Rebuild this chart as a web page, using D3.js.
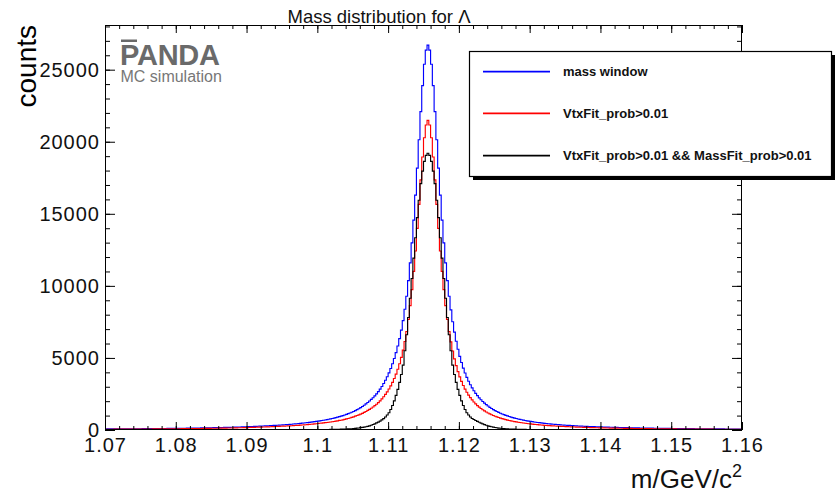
<!DOCTYPE html>
<html><head><meta charset="utf-8">
<script src="https://cdn.jsdelivr.net/npm/d3@7"></script>
<style>body{margin:0;background:#fff}svg{display:block}</style>
</head><body>
<svg id="c" width="836" height="494"></svg>
<script>
// ---- data ----
const xMin = 1.07, xMax = 1.16, binWidth = 0.00025, yMax = 28100;
const xTicks = [1.07,1.08,1.09,1.10,1.11,1.12,1.13,1.14,1.15,1.16];
const xTickLabels = ["1.07","1.08","1.09","1.1","1.11","1.12","1.13","1.14","1.15","1.16"];
const yTicks = [0,5000,10000,15000,20000,25000];
const yTickLabels = ["0","5000","10000","15000","20000","25000"];
const seriesNames = ["mass window","VtxFit_prob>0.01","VtxFit_prob>0.01 && MassFit_prob>0.01"];
const seriesColors = ["#0000ff","#ff0000","#000000"];

// counts per bin (360 bins of 0.25 MeV from 1.07 to 1.16)
const massWindow = [
72,73,73,74,75,75,76,77,77,78,
79,81,82,82,83,84,85,86,87,89,
90,91,92,93,94,95,97,98,99,100,
101,102,105,106,107,108,110,112,113,114,
116,117,120,121,123,124,127,129,131,132,
135,137,139,140,143,145,147,150,153,155,
158,160,162,164,168,170,174,177,181,184,
186,190,193,198,203,206,210,213,218,222,
226,233,238,244,250,255,260,266,271,277,
283,289,295,302,309,316,323,330,339,347,
355,363,373,382,392,402,413,424,435,447,
459,472,486,500,514,530,545,562,579,598,
617,637,657,674,696,721,746,772,800,827,
859,891,926,959,998,1039,1083,1131,1181,1229,
1286,1346,1411,1474,1549,1630,1716,1810,1911,2012,
2122,2240,2370,2511,2666,2834,3020,3225,3452,3697,
3964,4266,4598,4961,5368,5825,6341,6925,7586,8378,
9281,10360,11592,12988,14558,16293,18173,20137,22093,23897,
25378,26357,
26700,
26357,25378,23897,22093,20137,18173,16293,14558,12988,11592,
10360,9281,8336,7511,6789,6156,5601,5112,4680,4297,
3957,3653,3382,3138,2919,2721,2542,2380,2232,2097,
1974,1861,1757,1662,1574,1492,1417,1347,1282,1222,
1165,1113,1064,1018,975,934,896,860,827,795,
765,737,710,684,660,638,616,595,576,557,
540,523,507,491,476,462,449,436,424,412,
400,389,379,369,359,350,341,332,324,316,
308,301,294,287,280,274,268,262,256,250,
245,240,235,230,225,220,216,212,207,203,
199,195,191,188,184,181,178,175,171,168,
165,162,160,157,154,151,148,146,143,141,
139,137,135,133,130,128,126,124,122,121,
119,117,115,114,112,110,108,107,105,104,
102,101,99,98,97,96,94,93,92,91,
89,88,87,86,85,84,83,82,81,80,
79,78,77,76,75,74,73,72,71,71,
70,69,68,67,67,66,65];

const vtxFit = [
52,53,54,55,55,56,56,57,59,59,
60,60,61,61,62,63,63,65,66,66,
67,68,68,70,71,71,72,73,74,76,
76,77,78,79,81,82,83,84,84,85,
87,88,89,92,93,94,95,96,98,99,
101,102,104,105,107,109,111,112,113,116,
118,120,122,123,126,128,131,132,134,137,
139,142,145,148,150,153,156,159,162,165,
170,174,179,183,186,190,195,199,203,206,
211,216,221,226,231,236,241,248,254,259,
265,271,279,284,291,296,304,309,317,326,
336,345,355,365,376,387,398,410,423,437,
450,465,481,492,509,523,541,556,571,592,
615,638,663,679,706,737,767,800,836,875,
914,958,1005,1045,1098,1156,1218,1285,1357,1429,
1508,1594,1687,1788,1898,2021,2156,2304,2470,2646,
2842,3062,3307,3573,3876,4214,4600,5039,5539,6142,
6834,7670,8633,9739,11004,12422,13987,15656,17350,18943,
20274,21165,
21480,
21165,20274,18943,17350,15656,13987,12422,11004,9739,8633,
7670,6834,6111,5484,4940,4466,4052,3691,3371,3091,
2840,2619,2421,2245,2085,1942,1813,1695,1589,1493,
1404,1323,1248,1180,1117,1059,1005,955,909,866,
826,788,754,721,690,661,635,609,585,562,
541,521,502,484,467,451,436,421,407,394,
381,369,358,347,336,326,317,308,299,291,
283,275,267,260,253,247,241,235,229,223,
217,212,207,203,198,193,189,185,181,177,
173,169,165,162,159,156,152,149,146,143,
140,138,135,133,130,128,125,123,121,119,
116,114,112,110,108,107,105,103,101,100,
98,97,95,93,92,91,89,88,86,85,
84,83,81,80,79,78,77,76,75,73,
72,71,70,69,69,68,67,66,65,64,
63,62,62,61,60,59,58,58,57,56,
56,55,54,54,53,52,52,51,50,50,
49,49,48,48,47,46,46];

const vtxMassFit = [
8,8,8,8,8,8,8,8,8,8,
8,8,8,8,8,8,8,8,8,8,
8,8,8,8,8,8,8,8,8,8,
8,8,8,8,8,8,8,8,8,8,
8,8,8,8,8,8,8,8,8,8,
8,8,8,8,8,8,8,8,8,8,
8,8,
9,9,9,9,9,9,9,9,9,9,
10,10,10,10,10,10,10,10,10,11,
11,11,11,11,12,12,12,12,13,13,
13,14,14,14,15,15,15,16,16,16,
17,17,18,18,19,19,20,20,21,21,
22,22,23,24,25,26,27,28,29,30,
31,32,34,35,37,39,41,43,46,49,
52,56,60,65,70,76,82,90,100,112,
125,142,160,180,200,225,250,290,330,380,
430,490,550,620,700,790,900,1040,1200,1420,
1700,2020,2400,2820,3300,3850,4500,5500,6610,7807,
9140,10512,11920,13336,14740,15942,17090,17958,18640,19058,
19200,
19058,18640,17958,17090,15942,14740,13336,11920,10512,9140,
7807,6610,5500,4500,3850,3300,2820,2400,2020,1700,
1420,1200,1040,900,800,730,660,600,540,480,
425,375,330,290,255,225,200,175,153,135,
120,106,95,85,77,70,65,60,56,52,
49,46,43,41,39,37,35,34,32,31,
30,29,28,27,26,25,24,23,22,22,
21,21,20,20,19,19,18,18,17,17,
16,16,16,15,15,15,14,14,14,13,
13,13,12,12,12,12,11,11,11,11,
11,10,10,10,10,10,10,10,10,10,
9,9,9,9,9,9,9,9,9,9,
8,8,8,8,8,8,8,8,8,8,
8,8,8,8,8,8,8,8,8,8,
8,8,8,8,8,8,8,8,8,8,
8,8,8,8,8,8,8,8,8,8,
8,8,8,8,8,8,8,8,8,8,
8,8,8,8,8,8,8];

const series = [massWindow, vtxFit, vtxMassFit];

// ---- chart ----
const FONT = "'Liberation Sans', Arial, Helvetica, sans-serif";
const svg = d3.select('#c');
svg.append('rect').attr('width',836).attr('height',494).attr('fill','#fff');

const X0 = 105, X1 = 742, Y0 = 430, Y1 = 25;
const x = d3.scaleLinear().domain([xMin, xMax]).range([X0, X1]);
const y = d3.scaleLinear().domain([0, yMax]).range([Y0, Y1]);

svg.append('defs').append('clipPath').attr('id','plot')
  .append('rect').attr('x',X0).attr('y',Y1).attr('width',X1-X0).attr('height',Y0-Y1);

// histograms
const line = d3.line().x(d => x(d[0])).y(d => y(d[1])).curve(d3.curveStepAfter);
const gH = svg.append('g').attr('clip-path','url(#plot)');
series.forEach((vals, s) => {
  const n = vals.length;
  const edges = d3.range(n + 1).map(i => xMin + i * binWidth);
  const pts = edges.map((e, i) => [e, vals[Math.min(i, n - 1)]]);
  gH.append('path').attr('d', line(pts)).attr('fill','none')
    .attr('stroke', seriesColors[s]).attr('stroke-width', 1.15);
});

// ticks
const xMinor = d3.range(0, 46).map(i => xMin + i * 0.002);
const yMinor = d3.range(0, 29).map(i => i * 1000);

function styleAxis(g){
  g.select('.domain').remove();
  g.selectAll('line').attr('stroke','#000');
  g.attr('font-family', FONT).attr('font-size', 20);
  g.selectAll('text').attr('fill','#111').attr('letter-spacing','1px');
}
svg.append('g').attr('transform',`translate(0,${Y0})`)
  .call(d3.axisBottom(x).tickValues(xMinor).tickSizeInner(-4).tickSizeOuter(0).tickFormat(''))
  .call(styleAxis);
svg.append('g').attr('transform',`translate(0,${Y0})`)
  .call(d3.axisBottom(x).tickValues(xTicks).tickSizeInner(-8).tickSizeOuter(0).tickPadding(8)
    .tickFormat((d,i) => xTickLabels[i]))
  .call(styleAxis);
svg.append('g').attr('transform',`translate(0,${Y1})`)
  .call(d3.axisTop(x).tickValues(xMinor).tickSizeInner(-4).tickSizeOuter(0).tickFormat(''))
  .call(styleAxis);
svg.append('g').attr('transform',`translate(0,${Y1})`)
  .call(d3.axisTop(x).tickValues(xTicks).tickSizeInner(-8).tickSizeOuter(0).tickFormat(''))
  .call(styleAxis);
svg.append('g').attr('transform',`translate(${X0},0)`)
  .call(d3.axisLeft(y).tickValues(yMinor).tickSizeInner(-5).tickSizeOuter(0).tickFormat(''))
  .call(styleAxis);
svg.append('g').attr('transform',`translate(${X0},0)`)
  .call(d3.axisLeft(y).tickValues(yTicks).tickSizeInner(-10).tickSizeOuter(0).tickPadding(5)
    .tickFormat((d,i) => yTickLabels[i]))
  .call(styleAxis);
svg.append('g').attr('transform',`translate(${X1},0)`)
  .call(d3.axisRight(y).tickValues(yMinor).tickSizeInner(-5).tickSizeOuter(0).tickFormat(''))
  .call(styleAxis);
svg.append('g').attr('transform',`translate(${X1},0)`)
  .call(d3.axisRight(y).tickValues(yTicks).tickSizeInner(-10).tickSizeOuter(0).tickFormat(''))
  .call(styleAxis);

// frame
svg.append('rect').attr('x',X0+0.5).attr('y',Y1+0.5).attr('width',X1-X0-1).attr('height',Y0-Y1-1)
  .attr('fill','none').attr('stroke','#000').attr('stroke-width',1);

// title
svg.append('text').attr('x',379).attr('y',23).attr('text-anchor','middle')
  .attr('font-family',FONT).attr('font-size',18.5).attr('fill','#111')
  .text('Mass distribution for Λ');

// axis titles
svg.append('text').attr('transform','translate(36,25) rotate(-90)').attr('text-anchor','end')
  .attr('font-family',FONT).attr('font-size',28).attr('fill','#000').text('counts');
const xt = svg.append('text').attr('x',X1).attr('y',488).attr('text-anchor','end')
  .attr('font-family',FONT).attr('font-size',26).attr('fill','#111');
xt.append('tspan').text('m/GeV/c');
xt.append('tspan').attr('dy',-11).attr('font-size',18).text('2');

// PANDA logo
svg.append('text').attr('x',120).attr('y',65).attr('font-family',FONT).attr('font-weight','bold')
  .attr('font-size',29).attr('fill','#6a6a6a').attr('textLength',100).text('PANDA');
svg.append('rect').attr('x',121).attr('y',39.5).attr('width',16).attr('height',2.5).attr('fill','#6a6a6a');
svg.append('text').attr('x',120.5).attr('y',82).attr('font-family',FONT)
  .attr('font-size',16).attr('fill','#777').text('MC simulation');

// legend
const lg = svg.append('g');
lg.append('rect').attr('x',473).attr('y',55).attr('width',362).attr('height',125).attr('fill','#000');
lg.append('rect').attr('x',469.5).attr('y',51.5).attr('width',362).attr('height',125)
  .attr('fill','#fff').attr('stroke','#000').attr('stroke-width',1.2);
const legY = [71.7, 113.3, 155.7];
seriesNames.forEach((name, s) => {
  lg.append('line').attr('x1',483).attr('x2',550).attr('y1',legY[s]).attr('y2',legY[s])
    .attr('stroke',seriesColors[s]).attr('stroke-width',1.8);
  lg.append('text').attr('x',563).attr('y',legY[s]).attr('dy','0.35em')
    .attr('font-family',FONT).attr('font-weight','bold').attr('font-size',13).attr('fill','#111')
    .text(name);
});
</script>
</body></html>
